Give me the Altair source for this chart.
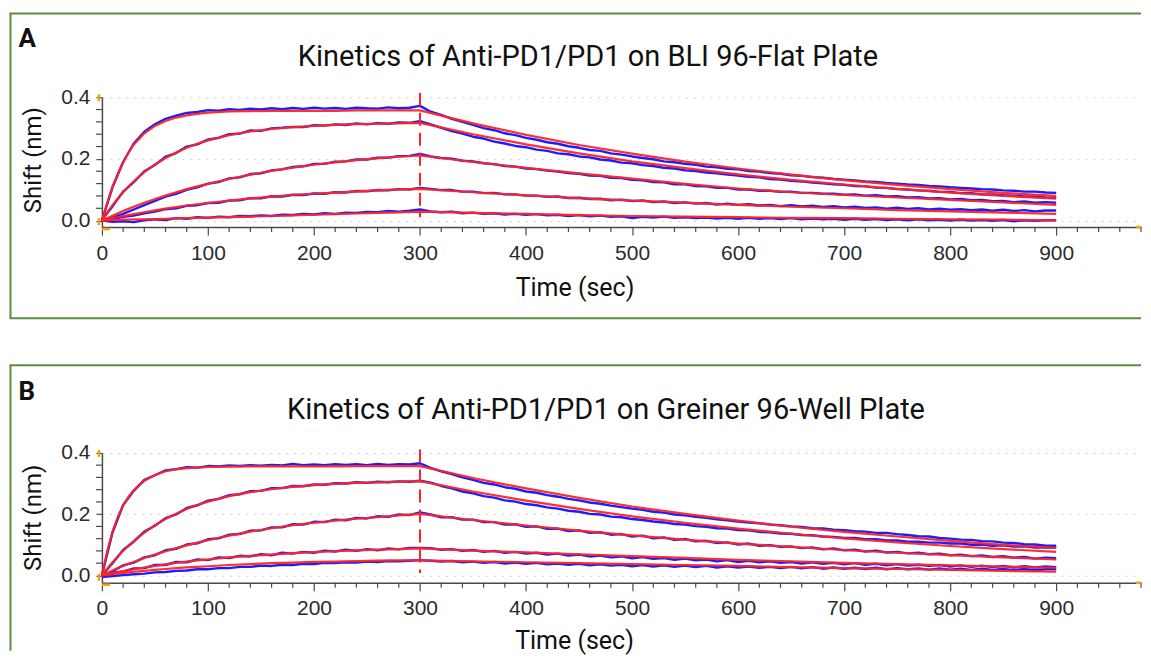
import altair as alt
import pandas as pd

# ---------------- shared axes / time grids ----------------
T_BLUE = list(range(0, 901, 10))
T_FIT_ASSOC = [0, 5, 10, 15, 20, 25, 30, 40, 50, 60, 70, 80, 90, 100,
               120, 140, 160, 180, 200, 220, 240, 260, 280, 300]
T_FIT_DISS = [300, 350, 400, 450, 500, 550, 600, 650, 700, 750, 800, 850, 900]
X_LABELS = [0, 100, 200, 300, 400, 500, 600, 700, 800, 900]
X_MINOR = [20, 40, 60, 80, 120, 140, 160, 180, 220, 240, 260, 280, 320, 340, 360, 380,
           420, 440, 460, 480, 520, 540, 560, 580, 620, 640, 660, 680, 720, 740, 760, 780,
           820, 840, 860, 880, 920, 940, 960, 980]
Y_LABELS = [0.0, 0.2, 0.4]
Y_MINOR = [0.04, 0.08, 0.12, 0.16, 0.24, 0.28, 0.32, 0.36]
SWITCH_T = 300
X_MAX = 980

# ---------------- panel A : BLI 96-Flat Plate ----------------
A1_BLUE = [0.000, 0.108, 0.190, 0.250, 0.288, 0.312, 0.330, 0.340, 0.349, 0.352,
           0.358, 0.356, 0.361, 0.359, 0.363, 0.360, 0.364, 0.361, 0.365, 0.362,
           0.366, 0.363, 0.365, 0.362, 0.366, 0.364, 0.363, 0.367, 0.364, 0.366,
           0.372,
           0.353, 0.343, 0.330, 0.320, 0.310, 0.300, 0.293, 0.283, 0.277, 0.268,
           0.262, 0.254, 0.249, 0.241, 0.236, 0.229, 0.226, 0.218, 0.214, 0.208,
           0.203, 0.199, 0.192, 0.189, 0.184, 0.181, 0.175, 0.173, 0.168, 0.166,
           0.161, 0.159, 0.154, 0.152, 0.147, 0.145, 0.141, 0.139, 0.135, 0.133,
           0.130, 0.127, 0.125, 0.122, 0.120, 0.117, 0.116, 0.112, 0.111, 0.108,
           0.106, 0.104, 0.102, 0.101, 0.098, 0.097, 0.094, 0.094, 0.091, 0.090]
A2_BLUE = [0.003, 0.046, 0.094, 0.125, 0.160, 0.180, 0.207, 0.219, 0.240, 0.247,
           0.263, 0.268, 0.280, 0.282, 0.292, 0.291, 0.299, 0.301, 0.304, 0.303,
           0.309, 0.308, 0.312, 0.310, 0.315, 0.312, 0.316, 0.314, 0.318, 0.317,
           0.322,
           0.312, 0.301, 0.290, 0.282, 0.272, 0.266, 0.256, 0.250, 0.242, 0.238,
           0.230, 0.226, 0.218, 0.215, 0.208, 0.205, 0.198, 0.195, 0.188, 0.186,
           0.180, 0.177, 0.171, 0.169, 0.163, 0.161, 0.156, 0.153, 0.149, 0.146,
           0.142, 0.140, 0.135, 0.133, 0.129, 0.127, 0.123, 0.121, 0.118, 0.116,
           0.112, 0.111, 0.107, 0.106, 0.102, 0.101, 0.098, 0.097, 0.093, 0.093,
           0.089, 0.089, 0.085, 0.085, 0.082, 0.081, 0.078, 0.078, 0.075, 0.074]
A3_BLUE = [0.002, 0.010, 0.022, 0.036, 0.050, 0.064, 0.078, 0.087, 0.100, 0.108,
           0.120, 0.125, 0.137, 0.140, 0.151, 0.153, 0.163, 0.166, 0.174, 0.176,
           0.184, 0.184, 0.191, 0.192, 0.198, 0.198, 0.204, 0.204, 0.209, 0.210,
           0.216,
           0.208, 0.203, 0.201, 0.194, 0.192, 0.186, 0.183, 0.177, 0.175, 0.169,
           0.167, 0.162, 0.159, 0.154, 0.152, 0.146, 0.145, 0.139, 0.138, 0.132,
           0.131, 0.125, 0.124, 0.118, 0.118, 0.112, 0.111, 0.106, 0.106, 0.101,
           0.101, 0.097, 0.097, 0.093, 0.094, 0.090, 0.090, 0.087, 0.087, 0.084,
           0.085, 0.081, 0.082, 0.078, 0.079, 0.075, 0.076, 0.072, 0.073, 0.069,
           0.070, 0.066, 0.067, 0.063, 0.064, 0.060, 0.062, 0.058, 0.060, 0.058]
A4_BLUE = [0.000, 0.004, 0.012, 0.016, 0.024, 0.029, 0.037, 0.040, 0.048, 0.050,
           0.057, 0.058, 0.065, 0.066, 0.073, 0.072, 0.079, 0.078, 0.084, 0.083,
           0.088, 0.087, 0.092, 0.091, 0.096, 0.095, 0.099, 0.098, 0.102, 0.101,
           0.106,
           0.103, 0.099, 0.099, 0.094, 0.094, 0.089, 0.090, 0.085, 0.085, 0.081,
           0.081, 0.077, 0.078, 0.073, 0.074, 0.070, 0.071, 0.066, 0.068, 0.063,
           0.065, 0.060, 0.062, 0.057, 0.059, 0.055, 0.057, 0.052, 0.055, 0.051,
           0.053, 0.049, 0.051, 0.047, 0.050, 0.046, 0.048, 0.044, 0.047, 0.043,
           0.045, 0.041, 0.043, 0.039, 0.042, 0.038, 0.040, 0.036, 0.039, 0.035,
           0.037, 0.034, 0.036, 0.032, 0.035, 0.031, 0.034, 0.030, 0.033, 0.033]
A5_BLUE = [0.000, -0.004, -0.002, -0.005, 0.001, 0.004, 0.002, 0.008, 0.006, 0.011,
           0.009, 0.013, 0.011, 0.015, 0.014, 0.017, 0.015, 0.019, 0.018, 0.022,
           0.020, 0.024, 0.022, 0.026, 0.025, 0.028, 0.027, 0.031, 0.029, 0.032,
           0.036,
           0.030, 0.027, 0.029, 0.024, 0.026, 0.022, 0.024, 0.020, 0.022, 0.019,
           0.021, 0.017, 0.019, 0.015, 0.018, 0.014, 0.016, 0.012, 0.014, 0.008,
           0.012, 0.010, 0.013, 0.009, 0.011, 0.008, 0.010, 0.007, 0.009, 0.006,
           0.009, 0.006, 0.008, 0.005, 0.008, 0.004, 0.007, 0.004, 0.006, 0.003,
           0.006, 0.003, 0.005, 0.002, 0.004, 0.001, 0.004, 0.001, 0.003, 0.000,
           0.003, 0.000, 0.002, -0.001, 0.002, -0.002, 0.001, -0.001, 0.001, 0.001]

A1_FIT_ASSOC = [0, 0.058, 0.110, 0.152, 0.188, 0.220, 0.246, 0.283, 0.307, 0.323, 0.334, 0.341, 0.346, 0.350,
                0.354, 0.355, 0.356, 0.356, 0.356, 0.356, 0.357, 0.357, 0.357, 0.357]
A2_FIT_ASSOC = [0, 0.026, 0.050, 0.072, 0.092, 0.110, 0.127, 0.157, 0.182, 0.203, 0.221, 0.236, 0.249, 0.260,
                0.277, 0.289, 0.297, 0.303, 0.307, 0.310, 0.313, 0.314, 0.315, 0.317]
A3_FIT_ASSOC = [0, 0.008, 0.016, 0.024, 0.031, 0.038, 0.045, 0.058, 0.070, 0.081, 0.092, 0.102, 0.111, 0.119,
                0.135, 0.149, 0.161, 0.172, 0.181, 0.189, 0.196, 0.202, 0.207, 0.211]
A4_FIT_ASSOC = [0, 0.004, 0.008, 0.011, 0.015, 0.018, 0.021, 0.027, 0.033, 0.039, 0.044, 0.049, 0.053, 0.057,
                0.065, 0.072, 0.078, 0.083, 0.087, 0.091, 0.095, 0.098, 0.101, 0.103]
A5_FIT_ASSOC = [0, 0.001, 0.002, 0.002, 0.003, 0.003, 0.004, 0.004, 0.005, 0.006, 0.007, 0.008, 0.009, 0.010,
                0.011, 0.013, 0.015, 0.017, 0.019, 0.021, 0.023, 0.025, 0.027, 0.029]
A1_FIT_DISS = [0.357, 0.315, 0.278, 0.245, 0.217, 0.191, 0.169, 0.149, 0.131, 0.116, 0.102, 0.090, 0.080]
A2_FIT_DISS = [0.317, 0.280, 0.247, 0.218, 0.192, 0.170, 0.150, 0.132, 0.117, 0.103, 0.091, 0.080, 0.071]
A3_FIT_DISS = [0.211, 0.190, 0.171, 0.153, 0.136, 0.119, 0.104, 0.092, 0.083, 0.075, 0.067, 0.059, 0.051]
A4_FIT_DISS = [0.103, 0.092, 0.082, 0.073, 0.065, 0.058, 0.051, 0.045, 0.040, 0.034, 0.030, 0.026, 0.022]
A5_FIT_DISS = [0.029, 0.025, 0.022, 0.018, 0.015, 0.013, 0.011, 0.009, 0.008, 0.006, 0.004, 0.003, 0.001]

# ---------------- panel B : Greiner 96-Well Plate ----------------
B1_BLUE = [0.000, 0.140, 0.230, 0.276, 0.312, 0.327, 0.343, 0.347, 0.353, 0.352,
           0.357, 0.356, 0.359, 0.357, 0.360, 0.358, 0.361, 0.359, 0.364, 0.360,
           0.362, 0.360, 0.363, 0.361, 0.363, 0.360, 0.364, 0.361, 0.363, 0.362,
           0.366,
           0.351, 0.340, 0.331, 0.320, 0.312, 0.302, 0.297, 0.288, 0.283, 0.274,
           0.270, 0.262, 0.257, 0.250, 0.245, 0.238, 0.234, 0.228, 0.223, 0.218,
           0.214, 0.208, 0.205, 0.199, 0.196, 0.191, 0.188, 0.183, 0.180, 0.176,
           0.173, 0.170, 0.166, 0.164, 0.160, 0.158, 0.154, 0.153, 0.149, 0.148,
           0.144, 0.143, 0.139, 0.139, 0.135, 0.132, 0.128, 0.127, 0.122, 0.120,
           0.117, 0.116, 0.112, 0.111, 0.107, 0.106, 0.102, 0.101, 0.097, 0.097]
B2_BLUE = [0.000, 0.040, 0.083, 0.110, 0.143, 0.162, 0.187, 0.199, 0.220, 0.229,
           0.244, 0.250, 0.262, 0.265, 0.275, 0.276, 0.285, 0.285, 0.292, 0.291,
           0.297, 0.296, 0.301, 0.300, 0.304, 0.302, 0.306, 0.304, 0.307, 0.306,
           0.309,
           0.303, 0.292, 0.284, 0.274, 0.268, 0.259, 0.254, 0.245, 0.241, 0.233,
           0.229, 0.222, 0.218, 0.211, 0.208, 0.201, 0.199, 0.192, 0.190, 0.184,
           0.181, 0.176, 0.173, 0.168, 0.166, 0.161, 0.159, 0.154, 0.153, 0.148,
           0.147, 0.142, 0.141, 0.137, 0.136, 0.132, 0.131, 0.127, 0.126, 0.122,
           0.122, 0.118, 0.118, 0.114, 0.114, 0.110, 0.110, 0.107, 0.107, 0.104,
           0.104, 0.100, 0.101, 0.097, 0.098, 0.094, 0.095, 0.091, 0.092, 0.090]
B3_BLUE = [0.000, 0.013, 0.033, 0.042, 0.059, 0.066, 0.082, 0.087, 0.101, 0.105,
           0.118, 0.121, 0.133, 0.135, 0.146, 0.147, 0.157, 0.157, 0.167, 0.166,
           0.175, 0.174, 0.182, 0.180, 0.188, 0.186, 0.193, 0.191, 0.199, 0.197,
           0.206,
           0.199, 0.190, 0.190, 0.182, 0.182, 0.174, 0.174, 0.166, 0.167, 0.159,
           0.160, 0.152, 0.153, 0.145, 0.147, 0.139, 0.141, 0.133, 0.135, 0.127,
           0.130, 0.121, 0.124, 0.116, 0.119, 0.111, 0.113, 0.106, 0.108, 0.101,
           0.104, 0.097, 0.099, 0.093, 0.095, 0.089, 0.091, 0.085, 0.088, 0.082,
           0.084, 0.078, 0.081, 0.075, 0.077, 0.072, 0.074, 0.069, 0.071, 0.066,
           0.068, 0.063, 0.065, 0.060, 0.063, 0.058, 0.060, 0.055, 0.058, 0.056]
B4_BLUE = [0.000, 0.009, 0.012, 0.023, 0.024, 0.034, 0.034, 0.044, 0.043, 0.052,
           0.050, 0.059, 0.057, 0.064, 0.062, 0.069, 0.066, 0.074, 0.071, 0.077,
           0.074, 0.081, 0.078, 0.084, 0.080, 0.086, 0.082, 0.088, 0.085, 0.090,
           0.090,
           0.089, 0.084, 0.086, 0.080, 0.083, 0.077, 0.080, 0.074, 0.077, 0.071,
           0.074, 0.068, 0.071, 0.065, 0.068, 0.062, 0.065, 0.059, 0.062, 0.056,
           0.060, 0.054, 0.057, 0.051, 0.055, 0.049, 0.052, 0.046, 0.050, 0.044,
           0.048, 0.043, 0.046, 0.041, 0.044, 0.039, 0.043, 0.038, 0.041, 0.036,
           0.040, 0.035, 0.038, 0.033, 0.037, 0.032, 0.035, 0.031, 0.034, 0.029,
           0.033, 0.028, 0.032, 0.027, 0.031, 0.026, 0.030, 0.026, 0.029, 0.027]
B5_BLUE = [-0.005, -0.002, 0.001, 0.004, 0.006, 0.010, 0.011, 0.015, 0.016, 0.020,
           0.020, 0.024, 0.024, 0.028, 0.028, 0.032, 0.031, 0.035, 0.034, 0.038,
           0.037, 0.041, 0.040, 0.043, 0.042, 0.045, 0.044, 0.047, 0.046, 0.048,
           0.050,
           0.048, 0.045, 0.047, 0.043, 0.045, 0.041, 0.044, 0.039, 0.042, 0.038,
           0.041, 0.036, 0.039, 0.035, 0.038, 0.033, 0.036, 0.032, 0.035, 0.030,
           0.034, 0.029, 0.033, 0.028, 0.032, 0.027, 0.031, 0.026, 0.030, 0.026,
           0.029, 0.025, 0.028, 0.024, 0.028, 0.023, 0.027, 0.022, 0.026, 0.022,
           0.025, 0.021, 0.025, 0.020, 0.024, 0.020, 0.023, 0.019, 0.023, 0.019,
           0.022, 0.018, 0.022, 0.018, 0.021, 0.017, 0.021, 0.017, 0.020, 0.020]

B1_FIT_ASSOC = [0, 0.080, 0.143, 0.191, 0.228, 0.256, 0.278, 0.309, 0.328, 0.340, 0.346, 0.350, 0.352, 0.354,
                0.355, 0.356, 0.356, 0.356, 0.356, 0.356, 0.357, 0.357, 0.357, 0.357]
B2_FIT_ASSOC = [0, 0.022, 0.043, 0.062, 0.080, 0.097, 0.112, 0.140, 0.164, 0.184, 0.201, 0.217, 0.230, 0.241,
                0.259, 0.272, 0.282, 0.289, 0.295, 0.299, 0.302, 0.304, 0.306, 0.308]
B3_FIT_ASSOC = [0, 0.008, 0.016, 0.024, 0.031, 0.038, 0.044, 0.057, 0.068, 0.079, 0.089, 0.098, 0.107, 0.115,
                0.130, 0.143, 0.154, 0.164, 0.172, 0.179, 0.185, 0.190, 0.196, 0.201]
B4_FIT_ASSOC = [0, 0.004, 0.007, 0.011, 0.014, 0.017, 0.020, 0.026, 0.031, 0.036, 0.041, 0.045, 0.049, 0.052,
                0.059, 0.064, 0.068, 0.073, 0.076, 0.079, 0.082, 0.084, 0.086, 0.088]
B5_FIT_ASSOC = [0, 0.002, 0.004, 0.006, 0.008, 0.010, 0.012, 0.015, 0.018, 0.021, 0.024, 0.026, 0.028, 0.030,
                0.034, 0.037, 0.040, 0.042, 0.044, 0.045, 0.047, 0.048, 0.049, 0.049]
B1_FIT_DISS = [0.357, 0.318, 0.284, 0.253, 0.225, 0.201, 0.179, 0.159, 0.142, 0.127, 0.113, 0.100, 0.090]
B2_FIT_DISS = [0.308, 0.274, 0.244, 0.217, 0.193, 0.172, 0.153, 0.136, 0.121, 0.108, 0.096, 0.086, 0.077]
B3_FIT_DISS = [0.201, 0.181, 0.163, 0.146, 0.131, 0.117, 0.104, 0.093, 0.083, 0.074, 0.066, 0.059, 0.052]
B4_FIT_DISS = [0.088, 0.081, 0.075, 0.069, 0.063, 0.057, 0.051, 0.046, 0.041, 0.037, 0.033, 0.029, 0.025]
B5_FIT_DISS = [0.049, 0.046, 0.043, 0.040, 0.037, 0.034, 0.031, 0.027, 0.024, 0.021, 0.018, 0.015, 0.012]

# ---------------- styling ----------------
TITLE_FONT = "Roboto"
TICK_FONT = "Liberation Sans"
BLUE = "#1c1cff"
RED = "#ff2424"
GREEN = "#5b8c42"
ORANGE = "#f5a00f"
AXIS_COL = "#4a4a4a"
W, H = 1040, 130
FRAME_X = -91.5


def one(**kw):
    return pd.DataFrame([kw])


def panel(letter, title, blues, fits_assoc, fits_diss, y_min, lay):
    xs = alt.Scale(domain=[0, X_MAX], nice=False, zero=False)
    ys = alt.Scale(domain=[y_min, 0.4], nice=False, zero=False)
    x_axis = alt.Axis(values=X_LABELS, title=None, labelFont=TICK_FONT, labelFontSize=21,
                      labelColor="#2b2b2b", tickSize=8, tickColor=AXIS_COL, tickWidth=1.2,
                      domainColor=AXIS_COL, domainWidth=1.5, labelPadding=7, grid=False,
                      labelFlush=False)
    y_axis = alt.Axis(values=Y_LABELS, format=".1f", title=None, labelFont=TICK_FONT,
                      labelFontSize=21, labelColor="#2b2b2b", tickSize=6, tickColor=AXIS_COL,
                      tickWidth=1.2, domainColor=AXIS_COL, domainWidth=1.5, labelPadding=6,
                      grid=True, gridColor="#cfcfcf", gridDash=[2, 6], gridWidth=1)

    def X(f):
        return alt.X(f, scale=xs, axis=x_axis)

    def Y(f):
        return alt.Y(f, scale=ys, axis=y_axis)

    brows = []
    for i, vals in enumerate(blues):
        for t, v in zip(T_BLUE, vals):
            brows.append({"t": t, "v": v, "c": i})
    frows = []
    for i, (fa, fd) in enumerate(zip(fits_assoc, fits_diss)):
        for t, v in zip(T_FIT_ASSOC, fa):
            frows.append({"t": t, "v": v, "c": i})
        for t, v in zip(T_FIT_DISS[1:], fd[1:]):
            frows.append({"t": t, "v": v, "c": i})
    bdf = pd.DataFrame(brows)
    fdf = pd.DataFrame(frows)

    blue = alt.Chart(bdf).mark_line(color=BLUE, strokeWidth=2.4, strokeJoin="round").encode(
        x=X("t:Q"), y=Y("v:Q"), detail="c:N", order="t:Q")
    red = alt.Chart(fdf).mark_line(color=RED, strokeWidth=2.2, opacity=0.95).encode(
        x=X("t:Q"), y=Y("v:Q"), detail="c:N", order="t:Q")
    dash = alt.Chart(one(t=SWITCH_T, y1=lay["dash_top"], y2=lay["dash_bot"])).mark_rule(
        color=RED, strokeWidth=2, strokeDash=[13, 7]).encode(
        x=X("t:Q"), y=Y("y1:Q"), y2="y2:Q")

    xminor = alt.Chart(pd.DataFrame({"t": X_MINOR})).mark_rule(
        color=AXIS_COL, strokeWidth=1.2).encode(
        x=X("t:Q"), y=alt.value(H), y2=alt.value(H + 5))
    yminor = alt.Chart(pd.DataFrame({"v": Y_MINOR})).mark_rule(
        color=AXIS_COL, strokeWidth=1.2).encode(
        y=Y("v:Q"), x=alt.value(-6), x2=alt.value(0))

    # orange axis handles
    oc = dict(color=ORANGE, strokeWidth=2.5)
    o1 = alt.Chart(one(a=1)).mark_rule(**oc).encode(
        x=alt.value(-3), y=alt.value(-3), y2=alt.value(4))
    o2 = alt.Chart(one(a=1)).mark_rule(**oc).encode(
        x=alt.value(-3), y=alt.value(H - 9), y2=alt.value(H - 2))
    o3 = alt.Chart(one(a=1)).mark_rule(**oc).encode(
        x=alt.value(0), x2=alt.value(8), y=alt.value(H + 2))
    o4 = alt.Chart(one(a=1)).mark_rule(**oc).encode(
        x=alt.value(W - 5), x2=alt.value(W), y=alt.value(H))

    # green frame (left, top, bottom)
    gc = dict(color=GREEN, strokeWidth=2)
    f_left = alt.Chart(one(a=1)).mark_rule(**gc).encode(
        x=alt.value(FRAME_X), y=alt.value(lay["frame_top"]), y2=alt.value(lay["frame_bot"]))
    f_top = alt.Chart(one(a=1)).mark_rule(**gc).encode(
        x=alt.value(FRAME_X - 1), x2=alt.value(W), y=alt.value(lay["frame_top"]))
    frame = [f_left, f_top]
    if lay.get("frame_bottom_line"):
        frame.append(alt.Chart(one(a=1)).mark_rule(**gc).encode(
            x=alt.value(FRAME_X - 1), x2=alt.value(W), y=alt.value(lay["frame_bot"])))

    letter_t = alt.Chart(one(s=letter)).mark_text(
        font=TITLE_FONT, fontSize=26, fontWeight="bold", color="#111", align="left",
        baseline="alphabetic").encode(
        text="s:N", x=alt.value(-83.5), y=alt.value(lay["letter_y"]))
    title_t = alt.Chart(one(s=title)).mark_text(
        font=TITLE_FONT, fontSize=29, color="#111", align="center",
        baseline="alphabetic").encode(
        text="s:N", x=alt.value(lay["title_x"]), y=alt.value(lay["title_y"]))
    xt = alt.Chart(one(s="Time (sec)")).mark_text(
        font=TITLE_FONT, fontSize=25, color="#111", align="center", baseline="middle").encode(
        text="s:N", x=alt.value(lay["xt_x"]), y=alt.value(lay["xt_y"]))
    yt = alt.Chart(one(s="Shift (nm)")).mark_text(
        font=TITLE_FONT, fontSize=24, color="#111", align="center", baseline="middle",
        angle=270).encode(
        text="s:N", x=alt.value(-68), y=alt.value(lay["yt_y"]))

    return alt.layer(xminor, yminor, blue, red, dash, o1, o2, o3, o4, *frame,
                     letter_t, title_t, xt, yt).properties(width=W, height=H)


panel_a = panel(
    "A", "Kinetics of Anti-PD1/PD1 on BLI 96-Flat Plate",
    [A1_BLUE, A2_BLUE, A3_BLUE, A4_BLUE, A5_BLUE],
    [A1_FIT_ASSOC, A2_FIT_ASSOC, A3_FIT_ASSOC, A4_FIT_ASSOC, A5_FIT_ASSOC],
    [A1_FIT_DISS, A2_FIT_DISS, A3_FIT_DISS, A4_FIT_DISS, A5_FIT_DISS],
    -0.021,
    dict(dash_top=0.414, dash_bot=0.011, frame_top=-83.7, frame_bot=221.3,
         frame_bottom_line=True, letter_y=-50, title_x=486.5, title_y=-31.7,
         xt_x=473.5, xt_y=191.3, yt_y=63))

panel_b = panel(
    "B", "Kinetics of Anti-PD1/PD1 on Greiner 96-Well Plate",
    [B1_BLUE, B2_BLUE, B3_BLUE, B4_BLUE, B5_BLUE],
    [B1_FIT_ASSOC, B2_FIT_ASSOC, B3_FIT_ASSOC, B4_FIT_ASSOC, B5_FIT_ASSOC],
    [B1_FIT_DISS, B2_FIT_DISS, B3_FIT_DISS, B4_FIT_DISS, B5_FIT_DISS],
    -0.024,
    dict(dash_top=0.411, dash_bot=0.008, frame_top=-87.7, frame_bot=198,
         frame_bottom_line=False, letter_y=-52.7, title_x=504.5, title_y=-33.7,
         xt_x=473, xt_y=188.3, yt_y=65))

chart = alt.vconcat(panel_a, panel_b, spacing=44).properties(
    padding={"left": 0, "top": 4, "right": 0, "bottom": 0},
    background="white",
).configure_view(stroke=None)

chart.save("out.html", embed_options={"renderer": "svg", "actions": False})
